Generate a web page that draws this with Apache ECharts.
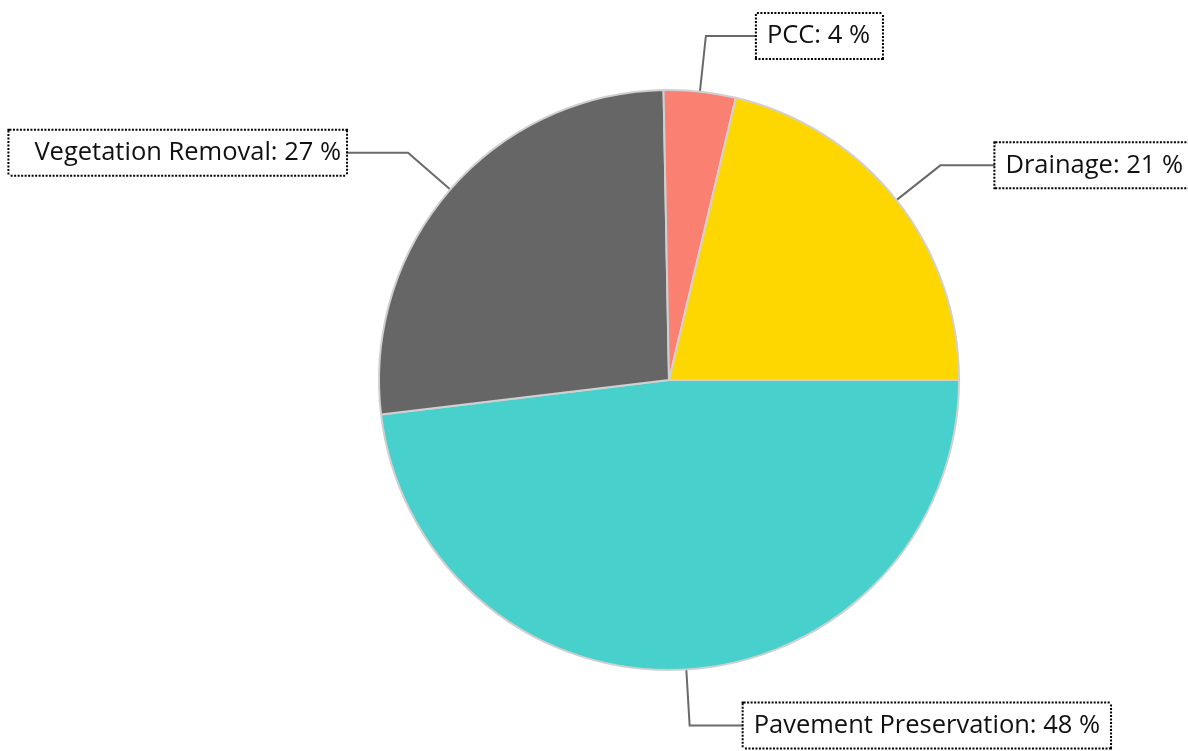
<!DOCTYPE html>
<html>
<head>
<meta charset="utf-8">
<script src="https://cdn.jsdelivr.net/npm/echarts@6/dist/echarts.min.js"></script>
<style>
    html, body { margin: 0; padding: 0; background: #fff; }
    #chart { width: 1188px; height: 751px; }
</style>
</head>
<body>
<div id="chart"></div>
<script>
// data (share of work, %)
const categories = ['Pavement Preservation', 'Vegetation Removal', 'PCC', 'Drainage']
const values = [48.1, 26.6, 4.0, 21.3]
const colors = ['#48D1CC', '#666666', '#FA8072', '#FFD700']
// tangent segment length of each label line
const lineLen2 = [54, 62, 51, 55]
// label box padding [top, right, bottom, left]
const labelPadding = [
    [9, 10, 9, 10],
    [9, 5, 9, 25],
    [9, 12, 9, 10],
    [9, 10, 9, 10]
]

const chart = echarts.init(document.getElementById('chart'))

const seriesData = categories.map((name, i) => ({
    name,
    value: values[i],
    itemStyle: { color: colors[i] },
    label: { padding: labelPadding[i] },
    labelLine: { length2: lineLen2[i] }
}))

const option = {
    animation: false,
    series: [
        {
            type: 'pie',
            center: [669, 380],
            radius: [0, 290],
            startAngle: 0,
            clockwise: true,
            percentPrecision: 0,
            avoidLabelOverlap: false,
            itemStyle: {
                borderColor: '#d0d0d0',
                borderWidth: 2
            },
            label: {
                show: true,
                formatter: '{b}: {d} %',
                color: '#111',
                fontFamily: '"Open Sans", sans-serif',
                fontSize: 25.5,
                backgroundColor: '#fff',
                borderColor: '#000',
                borderWidth: 2,
                borderType: [2, 1.5],
                distanceToLabelLine: 0
            },
            labelLine: {
                show: true,
                length: 56,
                smooth: false,
                lineStyle: { color: '#6a6a6a', width: 2 }
            },
            emphasis: { disabled: true },
            data: seriesData
        }
    ]
}

chart.setOption(option)
</script>
</body>
</html>
